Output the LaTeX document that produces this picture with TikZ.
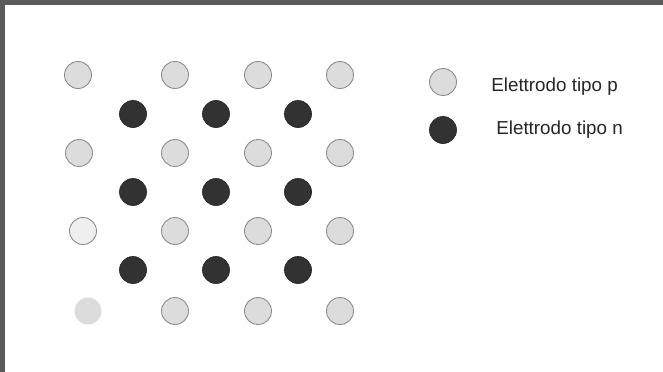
\documentclass[tikz,border=0pt]{standalone}
\usepackage{fontspec}
\setmainfont{Liberation Sans}
\usepackage{tikz}
\usetikzlibrary{positioning}
\definecolor{FrameGray}{RGB}{90, 90, 90}
\definecolor{PFill}{RGB}{220, 220, 220}
\definecolor{NFill}{RGB}{50, 50, 50}
\tikzset{pel/.style={circle, draw=gray!90, fill=PFill, line width=0.5pt, minimum size=0.54cm, inner sep=0pt},
	nel/.style={circle, draw=NFill!80!black, fill=NFill, line width=0.4pt, minimum size=0.54cm, inner sep=0pt},
	lbl/.style={anchor=base west, inner sep=0pt, text=black!85, font=\fontsize{10.7}{12}\selectfont}}

\begin{document}
\begin{tikzpicture}[x=0.02cm, y=-0.02cm]
	\fill[FrameGray] (0,0) rectangle (663,372);
	\fill[white] (5,5) rectangle (663,372);
	\useasboundingbox (0,0) rectangle (663,372);
	% elettrodi p
	\node[pel] (p11) at (78,75) {};
	\node[pel] (p12) at (175,75) {};
	\node[pel] (p13) at (258,75) {};
	\node[pel] (p14) at (340,75) {};
	\node[pel] (p21) at (79,153) {};
	\node[pel] (p22) at (175,153) {};
	\node[pel] (p23) at (258,153) {};
	\node[pel] (p24) at (340,153) {};
	\node[pel, fill=PFill!45] (p31) at (83,231) {};
	\node[pel] (p32) at (175,231) {};
	\node[pel] (p33) at (258,231) {};
	\node[pel] (p34) at (340,231) {};
	\node[pel, draw=none] (p41) at (88,311) {};
	\node[pel] (p42) at (175,311) {};
	\node[pel] (p43) at (258,311) {};
	\node[pel] (p44) at (340,311) {};
	% elettrodi n
	\node[nel] (n11) at (133,114) {};
	\node[nel] (n12) at (216,114) {};
	\node[nel] (n13) at (298,114) {};
	\node[nel] (n21) at (133,192) {};
	\node[nel] (n22) at (216,192) {};
	\node[nel] (n23) at (298,192) {};
	\node[nel] (n31) at (133,270) {};
	\node[nel] (n32) at (216,270) {};
	\node[nel] (n33) at (298,270) {};
	% legenda
	\node[pel] (legp) at (443,82) {};
	\node[nel] (legn) at (443,130) {};
	\node[lbl] (txtp) at (491,91.5) {Elettrodo tipo p};
	\node[lbl] (txtn) at (496,134) {Elettrodo tipo n};
\end{tikzpicture}
\end{document}
